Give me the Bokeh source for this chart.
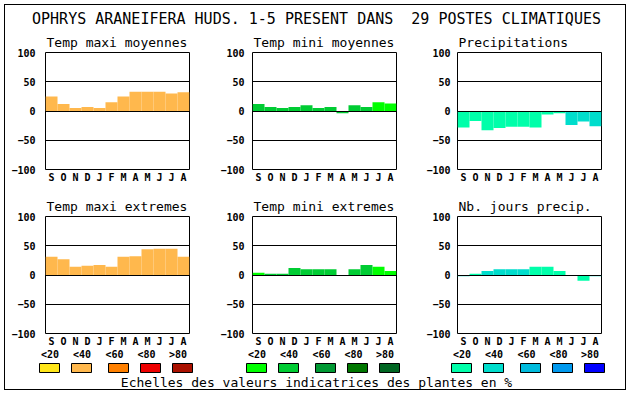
from bokeh.plotting import figure
from bokeh.layouts import column, row
from bokeh.models import Range1d, FixedTicker, ColumnDataSource, Title
from bokeh.core.properties import value
from bokeh.embed import file_html
from bokeh.resources import INLINE

# ---------------- data ----------------
MAIN_TITLE = "OPHRYS ARANEIFERA HUDS. 1-5 PRESENT DANS \u00a029 POSTES CLIMATIQUES"
MONTHS = ["S", "O", "N", "D", "J", "F", "M", "A", "M", "J", "J", "A"]
Y_TICKS = [-100, -50, 0, 50, 100]
GRID_LINES = [-50, 0, 50]

PANEL_TITLES = ["Temp maxi moyennes", "Temp mini moyennes", "Precipitations",
                "Temp maxi extremes", "Temp mini extremes", "Nb. jours precip."]

tmax_moy = [25, 12, 5, 7, 5, 15, 25, 33, 33, 33, 30, 32]
tmax_moy_cls = [1, 1, 1, 1, 1, 1, 1, 1, 1, 1, 1, 1]
tmin_moy = [12, 7, 5, 7, 10, 5, 7, -4, 10, 7, 15, 13]
tmin_moy_cls = [1, 1, 1, 1, 1, 1, 1, 1, 1, 1, 0, 0]
precip = [-28, -17, -33, -29, -27, -27, -28, -6, -4, -24, -18, -26]
precip_cls = [0, 0, 0, 0, 0, 0, 0, 0, 0, 1, 1, 1]
tmax_ext = [31, 27, 14, 16, 17, 14, 31, 32, 44, 45, 45, 31]
tmax_ext_cls = [1, 1, 1, 1, 1, 1, 1, 1, 1, 1, 1, 1]
tmin_ext = [4, 2, 2, 12, 10, 10, 10, 0, 10, 17, 14, 7]
tmin_ext_cls = [0, 1, 1, 1, 1, 1, 1, 1, 1, 1, 0, 0]
njours = [-2, 2, 7, 10, 10, 10, 14, 14, 7, 0, -10, -2]
njours_cls = [1, 0, 1, 1, 1, 1, 0, 0, 0, 0, 0, 1]

CLASS_LABELS = ["<20", "<40", "<60", "<80", ">80"]
ORANGES = ["#ffe619", "#ffb84d", "#ff8000", "#ee0000", "#aa1100"]
GREENS = ["#00ff00", "#00cc33", "#009933", "#007700", "#006622"]
BLUES = ["#00ffaa", "#00ddcc", "#00bbdd", "#0099ee", "#0000ff"]
SCALE_TEXT = "Echelles des valeurs indicatrices des plantes en %"

# ---------------- styling ----------------
MONO = "DejaVu Sans Mono"
FRAME_W = 144
FRAME_H = 120


def panel(title, vals, cls, palette, left, right, top, bottom, standoff):
    src = ColumnDataSource(dict(x=list(range(len(vals))), top=vals,
                                color=[palette[c] for c in cls]))
    p = figure(width=left + FRAME_W + right, height=top + FRAME_H + bottom,
               x_range=Range1d(-0.5, len(MONTHS) - 0.5), y_range=Range1d(-100, 100),
               output_backend="svg", toolbar_location=None,
               min_border_left=left, min_border_right=right,
               min_border_top=top, min_border_bottom=bottom)
    p.title = Title(text=title, align="left", text_font=MONO, text_font_size="13px",
                    text_font_style="normal", text_color="black", standoff=6, offset=1)
    p.vbar(x="x", top="top", bottom=0, width=1, fill_color="color",
           line_color=None, source=src)
    p.outline_line_color = "black"
    p.outline_line_width = 1
    p.outline_line_alpha = 1
    p.xgrid.visible = False
    p.ygrid.ticker = FixedTicker(ticks=GRID_LINES)
    p.ygrid.grid_line_color = "black"
    p.ygrid.grid_line_width = 1
    p.ygrid.level = "overlay"
    p.xaxis.ticker = FixedTicker(ticks=list(range(len(MONTHS))))
    p.xaxis.major_label_overrides = {i: m for i, m in enumerate(MONTHS)}
    p.yaxis.ticker = FixedTicker(ticks=Y_TICKS)
    for ax in (p.xaxis, p.yaxis):
        ax.axis_line_color = None
        ax.major_tick_line_color = None
        ax.minor_tick_line_color = None
        ax.major_tick_out = 0
        ax.major_tick_in = 0
        ax.major_label_text_font = MONO
        ax.major_label_text_font_style = "bold"
        ax.major_label_text_font_size = "10px"
        ax.major_label_text_color = "black"
    p.xaxis.major_label_standoff = 2
    p.yaxis.major_label_standoff = standoff
    return p


# window coords: border at x 4..625, y 4..389; content x 5..625, y 5..389
p1 = panel(PANEL_TITLES[0], tmax_moy, tmax_moy_cls, ORANGES, 40, 25, 20, 24, 10)
p2 = panel(PANEL_TITLES[1], tmin_moy, tmin_moy_cls, GREENS, 38, 23, 20, 24, 8)
p3 = panel(PANEL_TITLES[2], precip, precip_cls, BLUES, 38, 24, 20, 24, 7)
p4 = panel(PANEL_TITLES[3], tmax_ext, tmax_ext_cls, ORANGES, 40, 25, 20, 16, 10)
p5 = panel(PANEL_TITLES[4], tmin_ext, tmin_ext_cls, GREENS, 38, 23, 20, 16, 8)
p6 = panel(PANEL_TITLES[5], njours, njours_cls, BLUES, 38, 24, 20, 16, 7)


def blank(h, y0, y1):
    f = figure(width=620, height=h, x_range=Range1d(5, 625), y_range=Range1d(y1, y0),
               x_axis_type=None, y_axis_type=None, output_backend="svg",
               toolbar_location=None, min_border=0)
    f.outline_line_color = None
    f.xgrid.visible = False
    f.ygrid.visible = False
    return f


header = blank(24, 5, 29)
header.text(x=[316], y=[18], text=[MAIN_TITLE], text_font=value(MONO),
            text_font_size="15px", text_align="center", text_baseline="middle",
            text_color="black")

legend = blank(40, 349, 389)
GROUP_LEFT = [45, 252, 457]
LABEL_DX = [4.5, 36.5, 69, 101, 132.5]
SWATCH_DX = [-6, 26, 63, 95, 127]
for gl, pal in zip(GROUP_LEFT, [ORANGES, GREENS, BLUES]):
    legend.text(x=[gl + d for d in LABEL_DX], y=[354] * len(CLASS_LABELS), text=CLASS_LABELS,
                text_font=value(MONO), text_font_size="10px", text_font_style="bold",
                text_align="center", text_baseline="middle", text_color="black")
    legend.quad(left=[gl + d for d in SWATCH_DX], right=[gl + d + 20 for d in SWATCH_DX],
                top=[363] * len(pal), bottom=[372] * len(pal), fill_color=pal,
                line_color="black", line_width=1)
legend.text(x=[316], y=[382], text=[SCALE_TEXT], text_font=value(MONO),
            text_font_size="13px", text_align="center", text_baseline="middle",
            text_color="black")

layout = column(header, row(p1, p2, p3), row(p4, p5, p6), legend,
                styles={"border": "1px solid black", "margin": "4px"})

open("out.html", "w").write(file_html(layout, INLINE))
